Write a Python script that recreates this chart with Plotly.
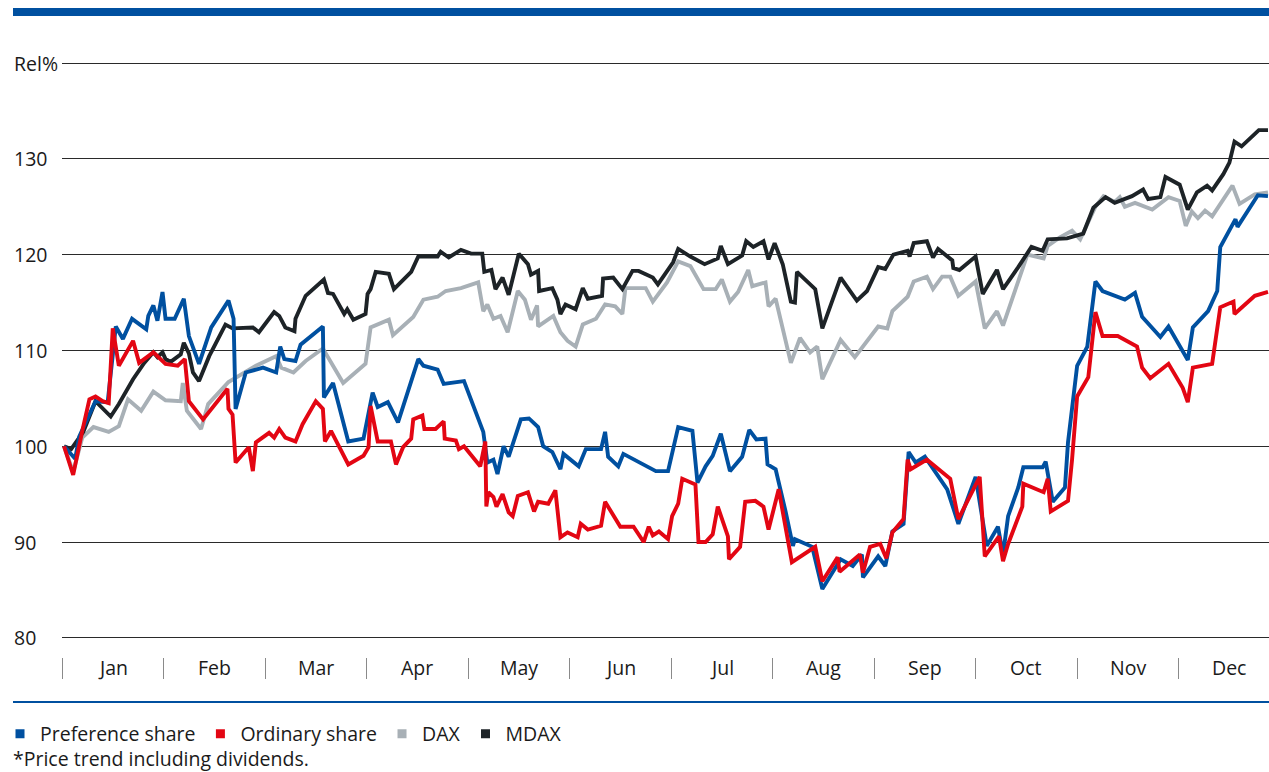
import plotly.graph_objects as go

# x positions in months (0 = start of January), y values in % relative to start
pref_x = [0.02, 0.13, 0.17, 0.33, 0.45, 0.53, 0.60, 0.69, 0.83, 0.85, 0.90, 0.94, 0.99, 1.02, 1.11, 1.20, 1.25,
          1.35, 1.47, 1.64, 1.69, 1.71, 1.81, 1.98, 2.11, 2.15, 2.19, 2.30, 2.35, 2.57, 2.58, 2.67, 2.82, 2.97,
          3.06, 3.11, 3.21, 3.31, 3.51, 3.56, 3.70, 3.76, 3.96, 4.06, 4.15, 4.19, 4.25, 4.29, 4.35, 4.40, 4.52,
          4.60, 4.69, 4.74, 4.83, 4.91, 4.94, 5.09, 5.16, 5.31, 5.35, 5.38, 5.48, 5.53, 5.85, 5.97, 6.07, 6.21,
          6.26, 6.34, 6.41, 6.49, 6.58, 6.70, 6.77, 6.84, 6.93, 6.95, 7.03, 7.13, 7.20, 7.22, 7.39, 7.49, 7.67,
          7.79, 7.88, 7.89, 8.04, 8.11, 8.18, 8.29, 8.34, 8.41, 8.50, 8.72, 8.83, 9.00, 9.11, 9.22, 9.27, 9.32,
          9.42, 9.47, 9.66, 9.69, 9.76, 9.88, 9.91, 10.00, 10.10, 10.18, 10.25, 10.47, 10.57, 10.64, 10.82,
          10.90, 11.09, 11.14, 11.29, 11.38, 11.41, 11.56, 11.58, 11.78, 11.88]
pref_y = [100.0, 98.7, 101.0, 104.7, 104.6, 112.5, 111.2, 113.3, 112.2, 113.6, 114.7, 113.1, 116.1, 113.3, 113.3,
          115.4, 111.5, 108.6, 112.4, 115.2, 113.3, 103.9, 107.7, 108.2, 107.7, 110.4, 109.1, 108.9, 110.6, 112.5,
          105.1, 106.6, 100.5, 100.8, 105.6, 104.1, 104.6, 102.5, 109.1, 108.4, 108.0, 106.5, 106.8, 104.1, 101.5,
          98.3, 98.6, 97.1, 100.0, 98.9, 102.8, 102.9, 102.0, 100.0, 99.4, 97.6, 99.2, 97.9, 99.7, 99.7, 101.5,
          98.9, 97.9, 99.2, 97.4, 97.4, 102.0, 101.6, 96.2, 97.9, 99.0, 101.3, 97.4, 98.9, 101.7, 100.7, 100.8,
          98.1, 97.6, 93.1, 89.6, 90.3, 89.5, 85.1, 88.2, 87.5, 88.7, 86.3, 88.5, 87.5, 91.1, 91.9, 99.4, 98.3,
          98.9, 95.5, 91.9, 96.8, 89.6, 91.6, 88.7, 92.7, 95.7, 97.8, 97.8, 98.4, 94.2, 95.7, 100.4, 108.4, 110.4,
          117.2, 116.2, 115.3, 116.0, 113.5, 111.4, 112.5, 109.0, 112.4, 114.1, 116.2, 120.8, 123.7, 122.9,
          126.2, 126.1]

ord_x = [0.02, 0.11, 0.20, 0.27, 0.33, 0.40, 0.46, 0.50, 0.56, 0.70, 0.76, 0.90, 1.02, 1.14, 1.21, 1.25, 1.39,
         1.63, 1.64, 1.68, 1.71, 1.84, 1.88, 1.91, 2.04, 2.09, 2.14, 2.20, 2.30, 2.37, 2.50, 2.57, 2.59, 2.65,
         2.82, 2.97, 3.02, 3.04, 3.11, 3.24, 3.29, 3.36, 3.44, 3.46, 3.55, 3.57, 3.68, 3.76, 3.77, 3.88, 3.91,
         3.96, 4.12, 4.17, 4.18, 4.20, 4.25, 4.28, 4.34, 4.40, 4.44, 4.49, 4.59, 4.65, 4.69, 4.79, 4.86, 4.91,
         4.98, 5.08, 5.11, 5.18, 5.31, 5.35, 5.50, 5.63, 5.73, 5.78, 5.82, 5.88, 5.97, 6.01, 6.07, 6.11, 6.24,
         6.27, 6.34, 6.41, 6.46, 6.56, 6.57, 6.68, 6.73, 6.83, 6.91, 6.96, 7.06, 7.19, 7.42, 7.49, 7.64, 7.66,
         7.86, 7.89, 7.96, 8.06, 8.12, 8.18, 8.29, 8.33, 8.36, 8.52, 8.75, 8.83, 9.04, 9.09, 9.23, 9.27, 9.32,
         9.46, 9.47, 9.67, 9.71, 9.74, 9.91, 9.95, 10.00, 10.11, 10.18, 10.25, 10.40, 10.59, 10.64, 10.72,
         10.90, 11.04, 11.09, 11.14, 11.33, 11.41, 11.54, 11.55, 11.75, 11.88]
ord_y = [100.0, 97.0, 101.6, 104.9, 105.2, 104.7, 104.5, 112.3, 108.4, 111.0, 108.7, 109.8, 108.6, 108.4, 109.1,
         104.7, 102.8, 106.0, 103.9, 103.3, 98.3, 99.9, 97.4, 100.4, 101.4, 100.9, 101.8, 100.9, 100.5, 102.3,
         104.7, 103.9, 100.5, 101.6, 98.1, 99.0, 99.9, 104.2, 100.5, 100.5, 98.1, 99.9, 100.8, 102.8, 103.2,
         101.8, 101.8, 102.6, 100.8, 100.6, 99.7, 100.0, 97.9, 100.5, 93.7, 95.2, 94.7, 93.7, 95.0, 93.1, 92.7,
         94.8, 95.2, 93.2, 94.2, 94.0, 95.4, 90.5, 91.0, 90.5, 91.9, 91.3, 91.7, 94.2, 91.6, 91.6, 90.0, 91.6,
         90.7, 91.1, 90.3, 92.7, 94.0, 96.6, 96.0, 90.0, 90.0, 90.8, 93.7, 90.6, 88.2, 89.5, 94.2, 94.3, 93.7,
         91.3, 95.5, 87.9, 89.5, 85.9, 88.4, 86.9, 88.7, 86.8, 89.5, 89.8, 88.3, 91.0, 92.4, 98.6, 97.6, 98.6,
         96.6, 92.4, 96.8, 88.5, 90.6, 88.0, 89.8, 93.7, 96.1, 95.2, 96.6, 93.2, 94.3, 98.6, 105.2, 107.2, 114.0,
         111.5, 111.5, 110.4, 108.2, 107.1, 108.6, 106.1, 104.6, 108.2, 108.6, 114.5, 115.1, 113.8, 115.7, 116.1]

dax_x = [0.02, 0.11, 0.20, 0.31, 0.46, 0.56, 0.65, 0.78, 0.90, 1.02, 1.17, 1.19, 1.23, 1.37, 1.44, 1.64, 1.91,
         2.11, 2.16, 2.28, 2.40, 2.57, 2.77, 2.99, 3.04, 3.22, 3.26, 3.46, 3.56, 3.70, 3.78, 3.93, 4.10, 4.15,
         4.19, 4.25, 4.32, 4.39, 4.49, 4.56, 4.62, 4.68, 4.69, 4.81, 4.84, 4.91, 4.98, 5.06, 5.13, 5.26, 5.35,
         5.45, 5.52, 5.55, 5.75, 5.82, 5.96, 6.07, 6.19, 6.32, 6.44, 6.50, 6.58, 6.66, 6.76, 6.80, 6.93, 6.96,
         7.03, 7.18, 7.27, 7.37, 7.44, 7.49, 7.67, 7.81, 8.04, 8.13, 8.18, 8.33, 8.39, 8.52, 8.58, 8.67, 8.75,
         8.83, 9.00, 9.09, 9.21, 9.27, 9.51, 9.67, 9.71, 9.83, 9.95, 10.03, 10.11, 10.18, 10.26, 10.37, 10.42,
         10.47, 10.57, 10.74, 10.90, 11.01, 11.07, 11.13, 11.19, 11.26, 11.33, 11.53, 11.60, 11.75, 11.88]
dax_y = [100.0, 97.3, 100.9, 102.0, 101.5, 102.1, 104.9, 103.7, 105.7, 104.8, 104.7, 106.6, 103.7, 101.8, 104.4,
         106.7, 108.4, 109.4, 108.2, 107.7, 108.9, 110.2, 106.6, 108.6, 112.4, 113.2, 111.6, 113.5, 115.3, 115.6,
         116.2, 116.5, 117.1, 114.1, 114.8, 113.3, 113.6, 111.9, 116.2, 115.3, 113.2, 114.7, 112.5, 113.3, 113.6,
         111.9, 111.0, 110.4, 112.7, 113.3, 114.8, 114.6, 113.8, 116.5, 116.5, 115.1, 117.1, 119.3, 118.8, 116.4,
         116.4, 117.4, 115.1, 116.1, 118.4, 116.7, 117.1, 114.6, 115.4, 108.7, 111.3, 109.8, 110.4, 107.0, 111.1,
         109.3, 112.5, 112.3, 114.1, 115.6, 117.2, 117.7, 116.4, 117.7, 117.7, 115.7, 117.2, 112.3, 114.1, 112.6,
         120.0, 119.6, 120.9, 121.8, 122.5, 121.6, 123.4, 125.0, 126.1, 125.5, 126.0, 125.0, 125.4, 124.7, 126.0,
         125.6, 123.0, 124.5, 123.8, 124.6, 124.0, 127.2, 125.3, 126.3, 126.5]

mdax_x = [0.02, 0.09, 0.21, 0.33, 0.48, 0.56, 0.70, 0.81, 0.90, 0.94, 0.99, 1.02, 1.07, 1.14, 1.17, 1.20, 1.25,
          1.29, 1.35, 1.45, 1.61, 1.68, 1.78, 1.88, 1.94, 2.09, 2.14, 2.20, 2.29, 2.30, 2.40, 2.58, 2.62, 2.67,
          2.78, 2.81, 2.87, 2.99, 3.01, 3.04, 3.09, 3.22, 3.27, 3.44, 3.51, 3.70, 3.73, 3.81, 3.93, 4.03, 4.14,
          4.16, 4.23, 4.27, 4.34, 4.40, 4.50, 4.59, 4.62, 4.69, 4.70, 4.83, 4.88, 4.91, 4.96, 5.06, 5.13, 5.18,
          5.32, 5.33, 5.43, 5.52, 5.62, 5.68, 5.82, 5.87, 6.02, 6.07, 6.19, 6.33, 6.46, 6.49, 6.56, 6.70, 6.74,
          6.81, 6.91, 6.96, 7.02, 7.10, 7.18, 7.22, 7.24, 7.42, 7.49, 7.67, 7.83, 7.93, 8.04, 8.11, 8.19, 8.33,
          8.35, 8.39, 8.52, 8.58, 8.63, 8.77, 8.78, 8.84, 9.00, 9.07, 9.21, 9.27, 9.42, 9.55, 9.66, 9.71, 9.90,
          10.06, 10.16, 10.28, 10.37, 10.54, 10.65, 10.70, 10.82, 10.87, 11.01, 11.09, 11.18, 11.28, 11.33,
          11.44, 11.50, 11.55, 11.62, 11.79, 11.88]
mdax_y = [100.0, 99.7, 101.5, 104.7, 103.1, 104.4, 107.0, 108.7, 109.8, 109.3, 109.8, 109.1, 108.8, 109.3, 109.6,
          110.8, 109.7, 107.7, 106.8, 109.4, 112.7, 112.3, 112.3, 112.4, 111.9, 114.0, 113.6, 112.4, 112.0, 113.3,
          115.7, 117.4, 116.0, 115.9, 113.8, 114.3, 113.2, 113.8, 115.9, 116.4, 118.2, 118.0, 116.4, 118.2, 119.8,
          119.8, 120.3, 119.7, 120.5, 120.1, 120.1, 118.2, 118.4, 116.4, 117.6, 115.8, 120.1, 119.0, 117.9, 118.3,
          116.2, 116.5, 115.3, 113.8, 114.8, 114.3, 116.5, 115.4, 115.7, 117.5, 117.6, 116.4, 118.3, 118.3, 117.6,
          116.9, 119.2, 120.6, 119.8, 119.0, 119.6, 120.9, 119.0, 119.9, 121.4, 120.8, 121.4, 119.5, 121.2, 119.0,
          115.1, 115.0, 118.2, 116.4, 112.3, 117.6, 115.2, 116.2, 118.7, 118.5, 120.0, 120.4, 119.8, 121.2, 121.4,
          119.7, 120.6, 119.4, 118.6, 118.4, 119.8, 115.9, 118.4, 116.4, 118.7, 120.8, 120.4, 121.6, 121.7, 122.2,
          124.9, 126.0, 125.4, 126.1, 126.8, 125.8, 126.0, 128.1, 127.3, 124.7, 126.5, 127.2, 126.7, 128.4, 129.6,
          131.8, 131.3, 133.0, 133.0]

months = ['Jan', 'Feb', 'Mar', 'Apr', 'May', 'Jun', 'Jul', 'Aug', 'Sep', 'Oct', 'Nov', 'Dec']
y_ticks = [80, 90, 100, 110, 120, 130, 140]
y_labels = ['80', '90', '100', '110', '120', '130', 'Rel%']

BLUE = '#0050a0'
RED = '#e30613'
GREY = '#a8b0b6'
BLACK = '#1d2327'
FONT = 'Open Sans'
FS = 19.5

series = [
    ('Preference share', pref_x, pref_y, BLUE),
    ('Ordinary share', ord_x, ord_y, RED),
    ('DAX', dax_x, dax_y, GREY),
    ('MDAX', mdax_x, mdax_y, BLACK),
]

fig = go.Figure()

# lines drawn back to front: DAX, MDAX, preference, ordinary
for idx in [2, 3, 0, 1]:
    name, xs, ys, col = series[idx]
    fig.add_trace(go.Scatter(x=xs, y=ys, mode='lines', name=name, showlegend=False,
                             line=dict(color=col, width=3.9), hoverinfo='skip'))

# square legend markers
for name, xs, ys, col in series:
    fig.add_trace(go.Scatter(x=[None], y=[None], mode='markers', name=name,
                             marker=dict(symbol='square', size=9, color=col)))

W, H = 1269, 772
L, R, T, B = 62, 0, 61, 115
pw = W - L - R
ph = H - T - B

def px_x(p):
    return (p - L) / pw

def px_y(p):
    return (H - B - p) / ph

txt_font = dict(size=FS, color='#1a1a1a', family=FONT)
annotations = []
for v, lab in zip(y_ticks, y_labels):
    annotations.append(dict(x=px_x(12), xref='paper', y=v, yref='y', text=lab, showarrow=False,
                            xanchor='left', yanchor='middle', font=txt_font))
for i, m in enumerate(months):
    annotations.append(dict(x=i + 0.5, xref='x', y=px_y(667), yref='paper', text=m, showarrow=False,
                            xanchor='center', yanchor='middle', font=txt_font))
annotations.append(dict(x=px_x(11), xref='paper', y=px_y(758), yref='paper',
                        text='*Price trend including dividends.', showarrow=False,
                        xanchor='left', yanchor='middle', font=txt_font))

shapes = [
    dict(type='rect', xref='paper', yref='paper', x0=px_x(13), x1=1, y0=px_y(16), y1=px_y(8),
         fillcolor=BLUE, line_width=0, layer='above'),
    dict(type='line', xref='paper', yref='paper', x0=px_x(13), x1=1, y0=px_y(702), y1=px_y(702),
         line=dict(color=BLUE, width=2)),
]

fig.update_layout(
    width=W, height=H,
    margin=dict(l=L, r=R, t=T, b=B),
    paper_bgcolor='white', plot_bgcolor='white',
    font=dict(family=FONT, size=FS, color='#1a1a1a'),
    xaxis=dict(range=[0, 11.89], showgrid=False, zeroline=False, showline=False,
               tickmode='array', tickvals=[i + 0.5 for i in range(12)], showticklabels=False, ticks='',
               minor=dict(tickmode='array', tickvals=list(range(13)), ticks='outside',
                          ticklen=21, tickwidth=1, tickcolor='#8a8a8a', showgrid=False)),
    yaxis=dict(range=[78.0, 140.21], tickvals=y_ticks, showticklabels=False, ticks='',
               showgrid=True, gridcolor='#2a2a2a', gridwidth=1, zeroline=False, showline=False),
    showlegend=True,
    legend=dict(orientation='h', xref='container', yref='container', x=-3 / W, xanchor='left',
                y=(H - 734) / H, yanchor='middle',
                font=dict(size=FS, family=FONT), itemwidth=30, bgcolor='rgba(0,0,0,0)',
                tracegroupgap=0),
    annotations=annotations,
    shapes=shapes,
)

fig.write_html('out.html', config={'displayModeBar': False},
               post_script="document.body.style.margin='0px';")
